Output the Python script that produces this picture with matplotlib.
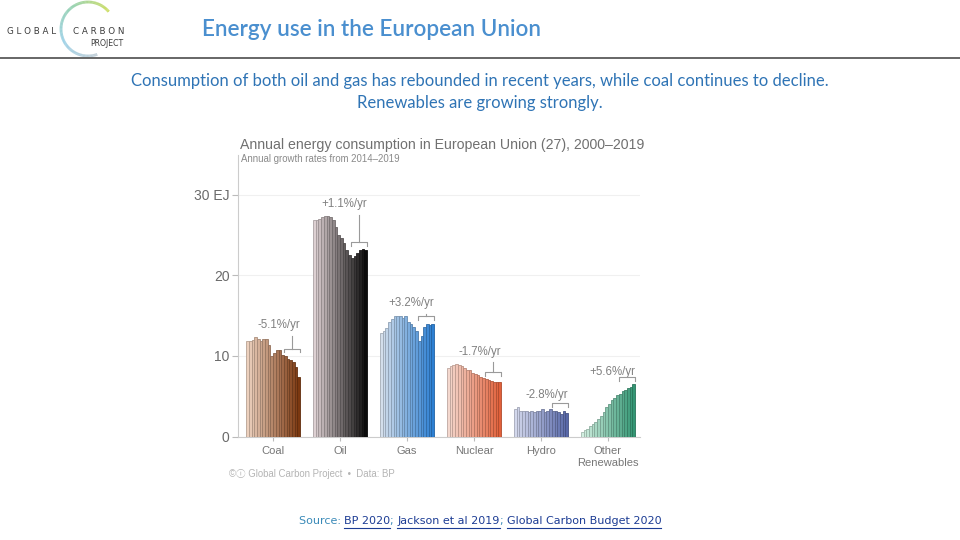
import numpy as np
import matplotlib
matplotlib.use('Agg')
import matplotlib.pyplot as plt
from matplotlib.colors import to_rgb, LinearSegmentedColormap
from matplotlib.collections import LineCollection

# data (EJ), 2000-2019
years = list(range(2000, 2020))
fuels = ['Coal', 'Oil', 'Gas', 'Nuclear', 'Hydro', 'Other\nRenewables']
coal = [11.8, 11.8, 12.0, 12.3, 12.1, 11.8, 12.1, 12.1, 11.3, 10.0,
        10.4, 10.7, 10.7, 10.1, 10.0, 9.6, 9.5, 9.2, 8.6, 7.4]
oil = [26.8, 26.9, 27.0, 27.2, 27.3, 27.3, 27.2, 26.9, 26.0, 25.0,
       24.6, 24.0, 23.1, 22.5, 22.1, 22.4, 22.8, 23.1, 23.2, 23.1]
gas = [12.8, 13.1, 13.4, 14.2, 14.6, 15.0, 14.9, 15.0, 14.7, 15.0,
       14.2, 14.0, 13.6, 13.1, 11.9, 12.5, 13.6, 13.9, 13.8, 14.0]
nuclear = [8.5, 8.8, 8.9, 9.0, 8.9, 8.7, 8.5, 8.2, 8.3, 7.9,
           7.8, 7.6, 7.4, 7.3, 7.1, 7.0, 6.9, 6.7, 6.7, 6.7]
hydro = [3.4, 3.6, 3.1, 3.1, 3.1, 3.0, 3.1, 3.0, 3.1, 3.1,
         3.4, 3.0, 3.2, 3.35, 3.1, 3.2, 3.0, 2.8, 3.1, 2.9]
other = [0.55, 0.75, 0.95, 1.25, 1.55, 1.8, 2.2, 2.6, 3.0, 3.6,
         4.0, 4.5, 4.8, 5.2, 5.3, 5.7, 5.8, 6.0, 6.1, 6.45]
series = [coal, oil, gas, nuclear, hydro, other]
rates = ['-5.1%/yr', '+1.1%/yr', '+3.2%/yr', '-1.7%/yr', '-2.8%/yr', '+5.6%/yr']
y_ticks = [0, 10, 20, 30]
y_tick_labels = ['0', '10', '20', '30 EJ']

light = ['#ecd0bd', '#ddd0d2', '#d3deeb', '#f4d8ce', '#d3d8ec', '#d2efe0']
dark = ['#7b3810', '#0c0c0c', '#2c7fd2', '#e1603a', '#5868a8', '#349674']

fig = plt.figure(figsize=(9.6, 5.4), dpi=100)

# pixel-space overlay for the slide texts
bg = fig.add_axes([0, 0, 1, 1])
bg.set_xlim(0, 960)
bg.set_ylim(540, 0)
bg.axis('off')

# logo
t = np.linspace(np.radians(40), np.radians(290), 150)
cx, cy, r = 88, 29, 27
px = cx + r * np.cos(t)
py = cy - r * np.sin(t)
pts = np.array([px, py]).T.reshape(-1, 1, 2)
segs = np.concatenate([pts[:-1], pts[1:]], axis=1)
arc_cmap = LinearSegmentedColormap.from_list('arc', ['#c6d94a', '#86cba4', '#8fcbe4', '#b9c8d2'])
lc = LineCollection(segs, colors=arc_cmap(np.linspace(0, 1, len(segs))), linewidths=2)
bg.add_collection(lc)
bg.text(7, 32, 'G L O B A L', fontsize=6.3, color='#3c3c3c', va='center', family='DejaVu Sans')
bg.text(73, 32, 'C A R B O N', fontsize=6.3, color='#3c3c3c', va='center', family='DejaVu Sans')
bg.text(90, 44, 'PROJECT', fontsize=5.6, color='#3c3c3c', va='center', family='DejaVu Sans')

bg.text(202, 30, 'Energy use in the European Union', fontsize=16.2, color='#4a8fcf',
        va='center', family='Lato', fontweight='semibold')
bg.plot([0, 960], [57.5, 57.5], color='#5a5a5a', lw=1.3)

bg.text(480, 81, 'Consumption of both oil and gas has rebounded in recent years, while coal continues to decline.',
        fontsize=12.0, color='#2f74b5', ha='center', va='center', family='Lato')
bg.text(480, 103, 'Renewables are growing strongly.',
        fontsize=12.0, color='#2f74b5', ha='center', va='center', family='Lato')

# chart titles
bg.text(240, 145, 'Annual energy consumption in European Union (27), 2000\u20132019',
        fontsize=10.2, color='#707070', va='center', family='Liberation Sans')
bg.text(241, 159, 'Annual growth rates from 2014\u20132019',
        fontsize=6.9, color='#8a8a8a', va='center', family='Liberation Sans')

# chart
ax = fig.add_axes([238 / 960, (540 - 436.5) / 540, (640 - 238) / 960, (436.5 - 155) / 540])
ax.patch.set_alpha(0)
stride = 24.8
n = len(years)
for g, vals in enumerate(series):
    m = np.linspace(0, 1, n)[:, None]
    cols = np.array(to_rgb(light[g])) * (1 - m) + np.array(to_rgb(dark[g])) * m
    edges = cols * 0.78
    xs = g * stride + np.arange(n)
    ax.bar(xs, vals, width=1, align='edge', color=cols, edgecolor=edges, linewidth=0.6, zorder=3)

    # growth-rate bracket over 2014-2019
    top = max(vals)
    label_y = top + 1.5
    b_y = max(vals[-6:]) + 0.9
    x0, x1 = g * stride + 14, g * stride + 20
    ax.plot([x0, x0, x1, x1], [b_y - 0.45, b_y, b_y, b_y - 0.45], color='#9a9a9a', lw=0.8, zorder=4)
    xm = (x0 + x1) / 2
    if label_y - 1.3 > b_y:
        ax.plot([xm, xm], [b_y, label_y - 1.3], color='#9a9a9a', lw=0.8, zorder=4)
    ax.text(g * stride + 20, label_y, rates[g], ha='right', va='center', fontsize=8.3,
            color='#808080', family='Liberation Sans')

ax.set_xlim(-3, 5 * stride + 21.85)
ax.set_ylim(0, 34.9)
ax.set_yticks(y_ticks)
ax.set_yticklabels(y_tick_labels)
ax.set_xticks([g * stride + 10 for g in range(len(fuels))])
ax.set_xticklabels(fuels)
ax.yaxis.grid(True, color='#f0f0f0', lw=0.8)
ax.set_axisbelow(True)
for s in ['top', 'right']:
    ax.spines[s].set_visible(False)
ax.spines['left'].set_color('#cccccc')
ax.spines['bottom'].set_color('#cccccc')
ax.spines['left'].set_linewidth(0.8)
ax.spines['bottom'].set_linewidth(0.8)
ax.tick_params(axis='y', length=4, color='#bbbbbb', labelcolor='#6a6a6a', labelsize=10, pad=2)
ax.tick_params(axis='x', length=3, color='#bbbbbb', labelcolor='#777777', labelsize=8, pad=4)
for lab in ax.get_xticklabels() + ax.get_yticklabels():
    lab.set_family('Liberation Sans')

bg.text(229, 474, '\u00a9\u24d8 Global Carbon Project  \u2022  Data: BP', fontsize=6.9,
        color='#b4b4b4', va='center',
        family=['Liberation Sans', 'DejaVu Sans', 'Noto Sans CJK JP'])

# source line with links
pieces = [('Source: ', '#3a8ab8', False), ('BP 2020', '#1c3c94', True), ('; ', '#3a8ab8', False),
          ('Jackson et al 2019', '#1c3c94', True), ('; ', '#3a8ab8', False),
          ('Global Carbon Budget 2020', '#1c3c94', True)]
fig.canvas.draw()
renderer = fig.canvas.get_renderer()
txts = []
widths = []
for s, c, u in pieces:
    tt = bg.text(0, 521, s, fontsize=8, color=c, va='center', family='DejaVu Sans')
    bb = tt.get_window_extent(renderer)
    txts.append(tt)
    widths.append(bb.width)
x = 480 - sum(widths) / 2
for (s, c, u), tt, w in zip(pieces, txts, widths):
    tt.set_x(x)
    if u:
        bg.plot([x, x + w], [527.5, 527.5], color=c, lw=0.8)
    x += w

fig.savefig('out.png', dpi=100)
